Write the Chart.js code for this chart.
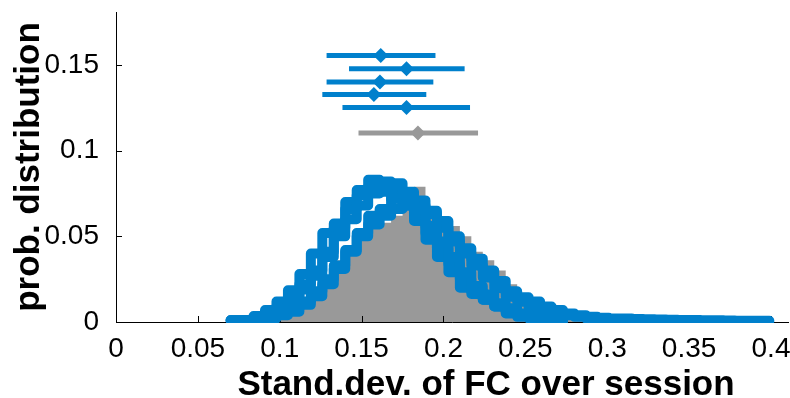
<!DOCTYPE html>
<html>
<head>
<meta charset="utf-8">
<script src="https://cdn.jsdelivr.net/npm/chart.js@4/dist/chart.umd.min.js"></script>
<style>
    html, body { margin: 0; padding: 0; background: #fff; }
</style>
</head>
<body>
<canvas id="grafico" width="790" height="398"></canvas>
<script>
// Bordes de los bins (ancho 0.007)
const bordes = [
    0.070, 0.077, 0.084, 0.091, 0.098, 0.105, 0.112, 0.119, 0.126, 0.133,
    0.140, 0.147, 0.154, 0.161, 0.168, 0.175, 0.182, 0.189, 0.196, 0.203,
    0.210, 0.217, 0.224, 0.231, 0.238, 0.245, 0.252, 0.259, 0.266, 0.273,
    0.280, 0.287, 0.294, 0.301, 0.308, 0.315, 0.322, 0.329, 0.336, 0.343,
    0.350, 0.357, 0.364, 0.371, 0.378, 0.385, 0.392, 0.399
];

// Histograma gris (todas las sesiones)
const histGris = [null, null, null, null, 0.002, 0.005, 0.009, 0.017, 0.022, 0.036,
    0.044, 0.049, 0.056, 0.058, 0.062, 0.070, 0.079, 0.067, 0.061, 0.056,
    0.050, 0.041, 0.036, 0.030, 0.022, 0.017, 0.012, 0.008, 0.006, 0.004,
    0.003, 0.002, 0.0015, 0.001, 0.0007, 0.0005];

// Histogramas azules (una curva por sujeto)
const histA = [null, 0.001, 0.002, 0.004, 0.008, 0.013, 0.019, 0.027, 0.038, 0.050,
    0.060, 0.068, 0.075, 0.080, 0.081, 0.074, 0.066, 0.056, 0.047, 0.038,
    0.029, 0.021, 0.016, 0.011, 0.008, 0.005, 0.003, 0.002, 0.001];
const histB = [null, null, 0.001, 0.002, 0.004, 0.006, 0.010, 0.015, 0.022, 0.031,
    0.041, 0.052, 0.062, 0.066, 0.072, 0.076, 0.071, 0.063, 0.055, 0.047,
    0.040, 0.033, 0.026, 0.0197, 0.0148, 0.0118, 0.008, 0.007, 0.006, 0.004,
    0.003, 0.002, 0.0015, 0.001];
const histC = [0.001, 0.001, 0.002, 0.005, 0.009, 0.014, 0.022, 0.030, 0.041, 0.055,
    0.066, 0.074, 0.079, 0.076, 0.072, 0.068, 0.062, 0.052, 0.043, 0.034,
    0.025, 0.018, 0.013, 0.009, 0.006, 0.004, 0.003, 0.002, 0.001];
const histD = [0.001, 0.001, 0.0035, 0.007, 0.012, 0.0185, 0.028, 0.040, 0.052, 0.0575,
    0.070, 0.077, 0.083, 0.082, 0.076, 0.070, 0.059, 0.048, 0.038, 0.029,
    0.020, 0.0163, 0.013, 0.009, 0.005, 0.003, 0.002, 0.001, 0.0005];
const histE = [0.001, 0.001, 0.002, 0.003, 0.005, 0.008, 0.012, 0.018, 0.025, 0.033,
    0.042, 0.050, 0.057, 0.062, 0.066, 0.068, 0.068, 0.065, 0.059, 0.050,
    0.043, 0.037, 0.030, 0.024, 0.018, 0.0145, 0.012, 0.009, 0.007, 0.005,
    0.004, 0.003, 0.0025, 0.002, 0.002, 0.0018, 0.0016, 0.0015, 0.0013, 0.0012,
    0.0011, 0.001, 0.001, 0.0009, 0.0008, 0.0008, 0.0007];

// Barras de error: media +- desviación (5 azules, 1 gris)
const errY     = [0.1556, 0.1478, 0.1402, 0.1328, 0.1253, 0.1103];
const errMedia = [0.1617, 0.1774, 0.1612, 0.1575, 0.1774, 0.1844];
const errBajo  = [0.1286, 0.1423, 0.1286, 0.1260, 0.1383, 0.1481];
const errAlto  = [0.1951, 0.2129, 0.1938, 0.1895, 0.2162, 0.2211];

const tituloX = 'Stand.dev. of FC over session';
const tituloY = 'prob. distribution';

const azul = '#0080cc';
const gris = '#999999';
const fuente = "'Liberation Sans', Arial, sans-serif";

// Convertir valores por bin en puntos de escalera
function escalones(valores) {
    const puntos = [];
    let ultimo = -1;
    valores.forEach((v, i) => {
        if (v === null) return;
        puntos.push({ x: bordes[i], y: v });
        ultimo = i;
    });
    puntos.push({ x: bordes[ultimo + 1], y: valores[ultimo] });
    return puntos;
}

const datasets = [];

// Barras de error primero (quedan encima)
errY.forEach((y, i) => {
    const color = i === errY.length - 1 ? gris : azul;
    datasets.push({
        data: [{ x: errBajo[i], y: y }, { x: errMedia[i], y: y }, { x: errAlto[i], y: y }],
        borderColor: color,
        backgroundColor: color,
        borderWidth: 5,
        borderCapStyle: 'butt',
        pointStyle: 'rectRot',
        pointRadius: ctx => ctx.dataIndex === 1 ? 7.5 : 0,
        pointBorderWidth: 0,
        clip: false
    });
});

[histA, histB, histC, histD, histE].forEach(h => {
    datasets.push({
        data: escalones(h),
        borderColor: azul,
        borderWidth: 10,
        borderJoinStyle: 'round',
        borderCapStyle: 'round',
        stepped: true,
        pointRadius: 0,
        fill: false,
        clip: { left: 0, top: 0, right: 0, bottom: 1 }
    });
});

datasets.push({
    data: escalones(histGris),
    borderWidth: 0,
    borderColor: gris,
    backgroundColor: gris,
    stepped: true,
    pointRadius: 0,
    fill: 'origin'
});
const indiceGris = datasets.length - 1;

// Ejes y marcas hacia adentro, dibujados sobre el histograma gris
const ejesPlugin = {
    id: 'ejes',
    afterDatasetDraw(chart, args) {
        if (args.index !== indiceGris) return;
        const { ctx, chartArea: a, scales: { x, y } } = chart;
        ctx.save();
        ctx.strokeStyle = '#000';
        ctx.lineWidth = 1;
        ctx.beginPath();
        ctx.moveTo(a.left + 0.5, a.top);
        ctx.lineTo(a.left + 0.5, a.bottom + 0.5);
        ctx.lineTo(a.right, a.bottom + 0.5);
        x.ticks.forEach(t => {
            const px = Math.round(x.getPixelForValue(t.value)) + 0.5;
            ctx.moveTo(px, a.bottom);
            ctx.lineTo(px, a.bottom - 6);
        });
        y.ticks.forEach(t => {
            const py = Math.round(y.getPixelForValue(t.value)) + 0.5;
            ctx.moveTo(a.left, py);
            ctx.lineTo(a.left + 6, py);
        });
        ctx.stroke();
        ctx.restore();
    },
    afterDraw(chart) {
        // título del eje x, algo desplazado a la derecha como en el original
        const ctx = chart.ctx;
        ctx.save();
        ctx.fillStyle = '#000';
        ctx.font = "bold 35px " + fuente;
        ctx.textAlign = 'center';
        ctx.textBaseline = 'alphabetic';
        ctx.fillText(tituloX, 486, 395);
        ctx.restore();
    }
};

const formatoTick = v => String(Math.round(v * 100) / 100);

new Chart(document.getElementById('grafico').getContext('2d'), {
    type: 'line',
    data: { datasets: datasets },
    plugins: [ejesPlugin],
    options: {
        responsive: false,
        animation: false,
        devicePixelRatio: 1,
        layout: { padding: { top: 12, right: 1, left: 0, bottom: 0 } },
        plugins: { legend: { display: false }, tooltip: { enabled: false } },
        scales: {
            x: {
                type: 'linear',
                min: 0,
                max: 0.411,
                border: { display: false },
                grid: { display: false },
                ticks: {
                    stepSize: 0.05,
                    includeBounds: false,
                    autoSkip: false,
                    maxRotation: 0,
                    padding: 2,
                    color: '#000',
                    font: { family: fuente, size: 28 },
                    callback: formatoTick
                },
                afterFit: s => {
                    s.height = 76;
                    s.paddingLeft = 0;
                    s.paddingRight = 0;
                }
            },
            y: {
                min: 0,
                max: 0.181,
                border: { display: false },
                grid: { display: false },
                ticks: {
                    stepSize: 0.05,
                    includeBounds: false,
                    padding: 9,
                    color: '#000',
                    font: { family: fuente, size: 28 },
                    callback: formatoTick
                },
                title: {
                    display: true,
                    text: tituloY,
                    color: '#000',
                    font: { family: fuente, size: 35, weight: 'bold', lineHeight: 1 },
                    padding: { top: 12, bottom: 0 }
                },
                afterFit: s => {
                    s.width = 116;
                    s.paddingTop = 0;
                    s.paddingBottom = 0;
                }
            }
        }
    }
});
</script>
</body>
</html>
